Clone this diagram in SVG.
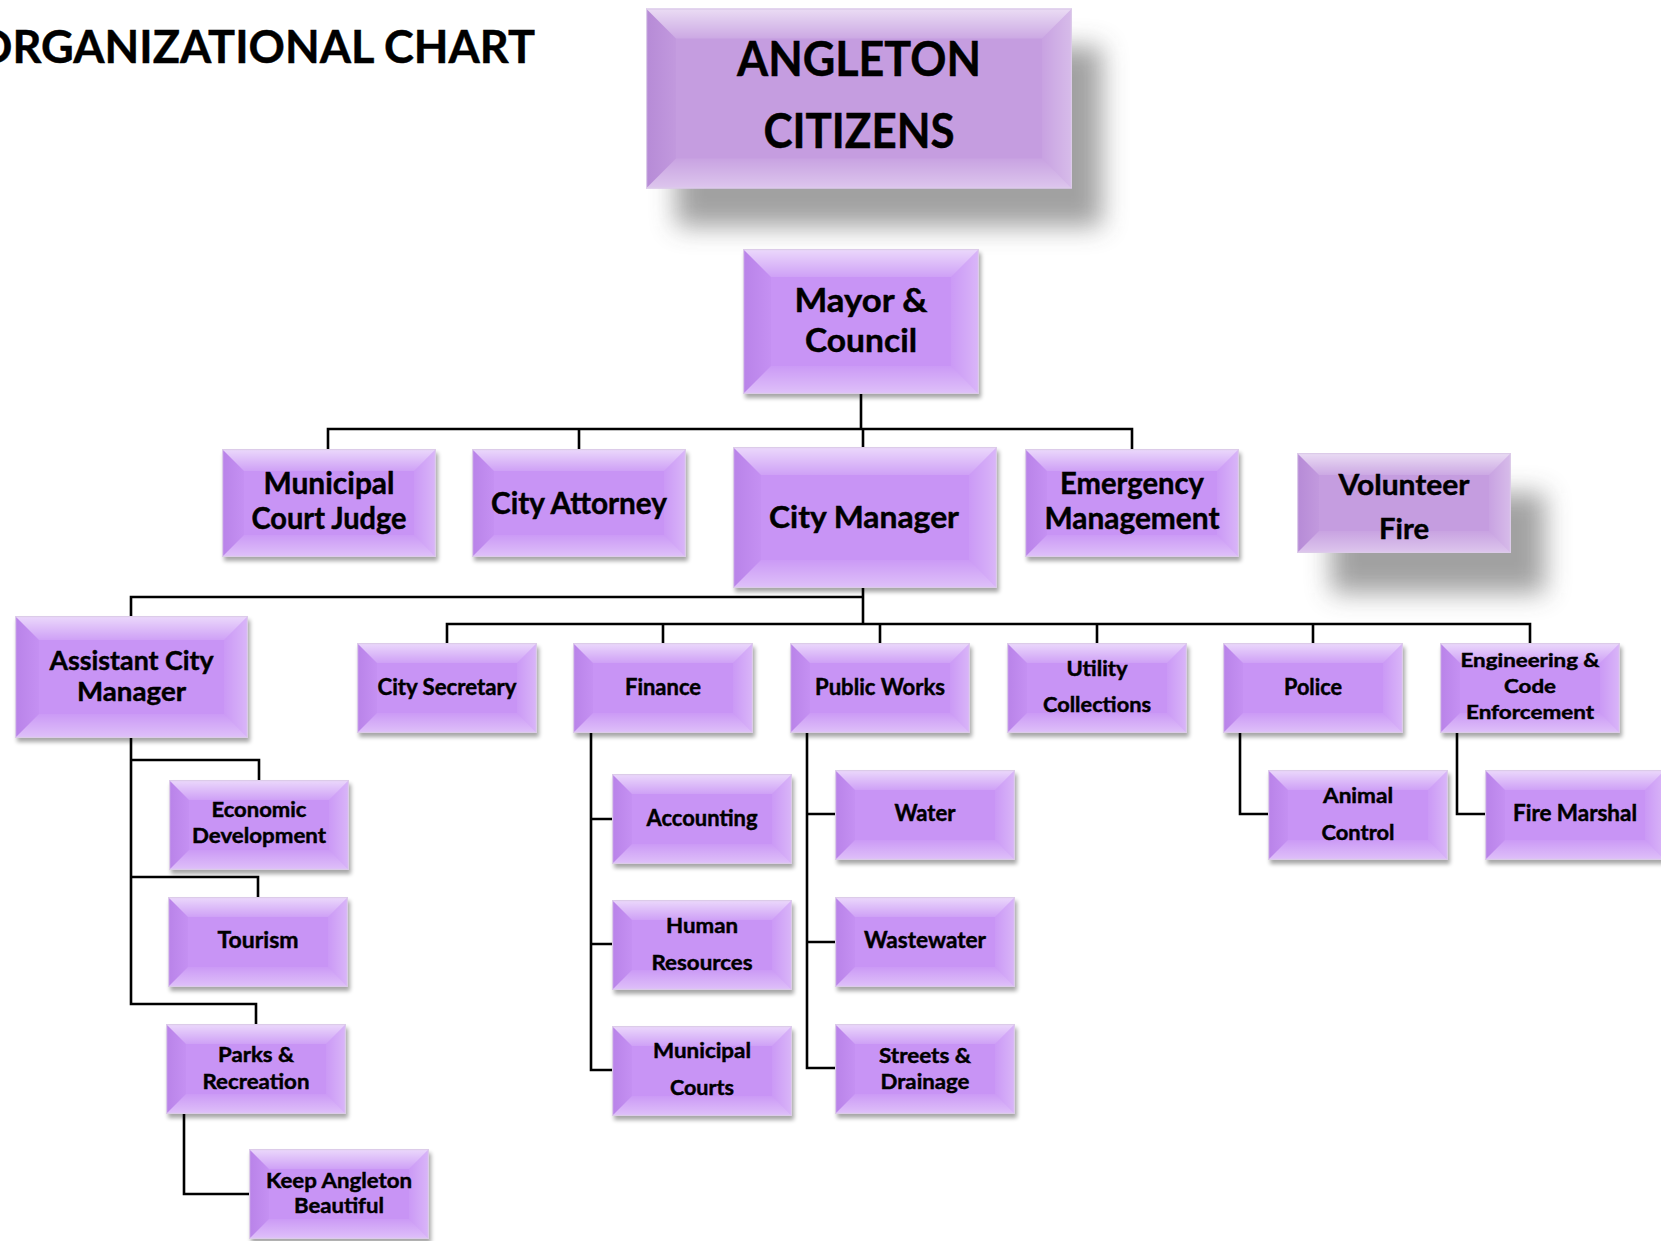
<svg xmlns="http://www.w3.org/2000/svg" xmlns:xlink="http://www.w3.org/1999/xlink" width="1661" height="1241" viewBox="0 0 1661 1241">
<style>
.t{font-family:Lato,"Liberation Sans",sans-serif;font-weight:700;fill:#000;text-anchor:middle;stroke:#000;stroke-width:0.45}
.conn{fill:none;stroke:#000;stroke-width:2.6;stroke-linejoin:miter}
</style>
<defs>
<filter id="fSm" x="-10%" y="-10%" width="130%" height="140%"><feGaussianBlur stdDeviation="2.2"/></filter>
<filter id="fBig" x="-40%" y="-50%" width="180%" height="200%"><feGaussianBlur stdDeviation="13"/></filter>
<linearGradient id="gT" x1="0" y1="0" x2="0" y2="1"><stop offset="0" stop-color="#fff" stop-opacity="0.65"/><stop offset="1" stop-color="#fff" stop-opacity="0.12"/></linearGradient>
<linearGradient id="gB" x1="0" y1="1" x2="0" y2="0"><stop offset="0" stop-color="#fff" stop-opacity="0.42"/><stop offset="1" stop-color="#fff" stop-opacity="0.06"/></linearGradient>
<linearGradient id="gL" x1="0" y1="0" x2="1" y2="0"><stop offset="0" stop-color="#5a189a" stop-opacity="0.14"/><stop offset="1" stop-color="#5a189a" stop-opacity="0.03"/></linearGradient>
<linearGradient id="gR" x1="1" y1="0" x2="0" y2="0"><stop offset="0" stop-color="#fff" stop-opacity="0.32"/><stop offset="1" stop-color="#fff" stop-opacity="0.05"/></linearGradient>

<g id="bv1">
<rect x="30" y="38" width="426" height="180" fill="#444" opacity="0.5" filter="url(#fBig)"/>
<rect width="426" height="180" fill="#C59DE0"/>
<polygon points="0,0 426,0 396,30 30,30" fill="url(#gT)"/>
<polygon points="0,180 426,180 396,150 30,150" fill="url(#gB)"/>
<polygon points="0,0 30,30 30,150 0,180" fill="url(#gL)"/>
<polygon points="426,0 396,30 396,150 426,180" fill="url(#gR)"/>
<rect x="0.6" y="0.6" width="424.8" height="178.8" fill="none" stroke="#DCCBE9" stroke-width="1.2"/>
</g>
<g id="bv2">
<rect x="2" y="4" width="236" height="145" fill="#000" opacity="0.35" filter="url(#fSm)"/>
<rect width="236" height="145" fill="#C894F5"/>
<polygon points="0,0 236,0 208,28 28,28" fill="url(#gT)"/>
<polygon points="0,145 236,145 208,117 28,117" fill="url(#gB)"/>
<polygon points="0,0 28,28 28,117 0,145" fill="url(#gL)"/>
<polygon points="236,0 208,28 208,117 236,145" fill="url(#gR)"/>
<rect x="0.6" y="0.6" width="234.8" height="143.8" fill="none" stroke="#DCCBE9" stroke-width="1.2"/>
</g>
<g id="bv3">
<rect x="2" y="4" width="214" height="108" fill="#000" opacity="0.35" filter="url(#fSm)"/>
<rect width="214" height="108" fill="#C894F5"/>
<polygon points="0,0 214,0 192,22 22,22" fill="url(#gT)"/>
<polygon points="0,108 214,108 192,86 22,86" fill="url(#gB)"/>
<polygon points="0,0 22,22 22,86 0,108" fill="url(#gL)"/>
<polygon points="214,0 192,22 192,86 214,108" fill="url(#gR)"/>
<rect x="0.6" y="0.6" width="212.8" height="106.8" fill="none" stroke="#DCCBE9" stroke-width="1.2"/>
</g>
<g id="bv4">
<rect x="2" y="4" width="264" height="141" fill="#000" opacity="0.35" filter="url(#fSm)"/>
<rect width="264" height="141" fill="#C894F5"/>
<polygon points="0,0 264,0 236,28 28,28" fill="url(#gT)"/>
<polygon points="0,141 264,141 236,113 28,113" fill="url(#gB)"/>
<polygon points="0,0 28,28 28,113 0,141" fill="url(#gL)"/>
<polygon points="264,0 236,28 236,113 264,141" fill="url(#gR)"/>
<rect x="0.6" y="0.6" width="262.8" height="139.8" fill="none" stroke="#DCCBE9" stroke-width="1.2"/>
</g>
<g id="bv5">
<rect x="34" y="40" width="214" height="100" fill="#444" opacity="0.5" filter="url(#fBig)"/>
<rect width="214" height="100" fill="#C59DE0"/>
<polygon points="0,0 214,0 192,22 22,22" fill="url(#gT)"/>
<polygon points="0,100 214,100 192,78 22,78" fill="url(#gB)"/>
<polygon points="0,0 22,22 22,78 0,100" fill="url(#gL)"/>
<polygon points="214,0 192,22 192,78 214,100" fill="url(#gR)"/>
<rect x="0.6" y="0.6" width="212.8" height="98.8" fill="none" stroke="#DCCBE9" stroke-width="1.2"/>
</g>
<g id="bv6">
<rect x="2" y="4" width="233" height="122" fill="#000" opacity="0.35" filter="url(#fSm)"/>
<rect width="233" height="122" fill="#C894F5"/>
<polygon points="0,0 233,0 209,24 24,24" fill="url(#gT)"/>
<polygon points="0,122 233,122 209,98 24,98" fill="url(#gB)"/>
<polygon points="0,0 24,24 24,98 0,122" fill="url(#gL)"/>
<polygon points="233,0 209,24 209,98 233,122" fill="url(#gR)"/>
<rect x="0.6" y="0.6" width="231.8" height="120.8" fill="none" stroke="#DCCBE9" stroke-width="1.2"/>
</g>
<g id="bv7">
<rect x="2" y="4" width="180" height="90" fill="#000" opacity="0.35" filter="url(#fSm)"/>
<rect width="180" height="90" fill="#C894F5"/>
<polygon points="0,0 180,0 160,20 20,20" fill="url(#gT)"/>
<polygon points="0,90 180,90 160,70 20,70" fill="url(#gB)"/>
<polygon points="0,0 20,20 20,70 0,90" fill="url(#gL)"/>
<polygon points="180,0 160,20 160,70 180,90" fill="url(#gR)"/>
<rect x="0.6" y="0.6" width="178.8" height="88.8" fill="none" stroke="#DCCBE9" stroke-width="1.2"/>
</g>
</defs>

<rect width="1661" height="1241" fill="#fff"/>

<text class="t" x="-24" y="63" font-size="46" style="text-anchor:start" textLength="559" lengthAdjust="spacingAndGlyphs">ORGANIZATIONAL CHART</text>

<g id="connectors">
<path class="conn" d="M861,394 V429 M328,449 V429 H1132 V449 M579,429 V449 M863,429 V447"/>
<path class="conn" d="M863,588 V624 M863,597 H131 V616 M447,643 V624 H1530 V643 M663,624 V643 M880,624 V643 M1097,624 V643 M1313,624 V643"/>
<path class="conn" d="M131,738 V1004 H256 V1024 M131,760 H259 V780 M131,877 H258 V897"/>
<path class="conn" d="M184,1114 V1194 H249"/>
<path class="conn" d="M591,733 V1070 H612 M591,819 H612 M591,944 H612"/>
<path class="conn" d="M807,733 V1068 H835 M807,814 H835 M807,942 H835"/>
<path class="conn" d="M1240,733 V814 H1268"/>
<path class="conn" d="M1457,733 V814 H1485"/>
</g>

<g id="n-citizens" transform="translate(646,8.5)">
<use xlink:href="#bv1"/>
<text class="t" x="213" y="67" font-size="47" textLength="244" lengthAdjust="spacingAndGlyphs">ANGLETON</text>
<text class="t" x="213" y="139" font-size="47" textLength="191" lengthAdjust="spacingAndGlyphs">CITIZENS</text>
</g>

<g id="n-mayor" transform="translate(743,249)">
<use xlink:href="#bv2"/>
<text class="t" x="118" y="63" font-size="33" textLength="133" lengthAdjust="spacingAndGlyphs">Mayor &amp;</text>
<text class="t" x="118" y="103" font-size="33" textLength="112" lengthAdjust="spacingAndGlyphs">Council</text>
</g>

<g id="n-judge" transform="translate(222,449)">
<use xlink:href="#bv3"/>
<text class="t" x="107" y="45" font-size="30" textLength="131" lengthAdjust="spacingAndGlyphs">Municipal</text>
<text class="t" x="107" y="80" font-size="30" textLength="155" lengthAdjust="spacingAndGlyphs">Court Judge</text>
</g>

<g id="n-attorney" transform="translate(472,449)">
<use xlink:href="#bv3"/>
<text class="t" x="107" y="65" font-size="30" textLength="176" lengthAdjust="spacingAndGlyphs">City Attorney</text>
</g>

<g id="n-citymanager" transform="translate(733,447)">
<use xlink:href="#bv4"/>
<text class="t" x="131" y="81" font-size="31" textLength="190" lengthAdjust="spacingAndGlyphs">City Manager</text>
</g>

<g id="n-emergency" transform="translate(1025,449)">
<use xlink:href="#bv3"/>
<text class="t" x="107" y="45" font-size="30" textLength="144" lengthAdjust="spacingAndGlyphs">Emergency</text>
<text class="t" x="107" y="80" font-size="30" textLength="175" lengthAdjust="spacingAndGlyphs">Management</text>
</g>

<g id="n-volunteerfire" transform="translate(1297,453)">
<use xlink:href="#bv5"/>
<text class="t" x="107" y="42" font-size="29" textLength="131" lengthAdjust="spacingAndGlyphs">Volunteer</text>
<text class="t" x="107" y="86" font-size="29" textLength="50" lengthAdjust="spacingAndGlyphs">Fire</text>
</g>

<g id="n-assistant" transform="translate(15,616)">
<use xlink:href="#bv6"/>
<text class="t" x="116.5" y="54" font-size="27" textLength="164" lengthAdjust="spacingAndGlyphs">Assistant City</text>
<text class="t" x="116.5" y="85" font-size="27" textLength="109" lengthAdjust="spacingAndGlyphs">Manager</text>
</g>

<g id="n-secretary" transform="translate(357,643)">
<use xlink:href="#bv7"/>
<text class="t" x="90" y="52" font-size="22" textLength="139" lengthAdjust="spacingAndGlyphs">City Secretary</text>
</g>

<g id="n-finance" transform="translate(573,643)">
<use xlink:href="#bv7"/>
<text class="t" x="90" y="52" font-size="22" textLength="76" lengthAdjust="spacingAndGlyphs">Finance</text>
</g>

<g id="n-publicworks" transform="translate(790,643)">
<use xlink:href="#bv7"/>
<text class="t" x="90" y="52" font-size="22" textLength="130" lengthAdjust="spacingAndGlyphs">Public Works</text>
</g>

<g id="n-utility" transform="translate(1007,643)">
<use xlink:href="#bv7"/>
<text class="t" x="90" y="33" font-size="21" textLength="61" lengthAdjust="spacingAndGlyphs">Utility</text>
<text class="t" x="90" y="69" font-size="21" textLength="108" lengthAdjust="spacingAndGlyphs">Collections</text>
</g>

<g id="n-police" transform="translate(1223,643)">
<use xlink:href="#bv7"/>
<text class="t" x="90" y="52" font-size="22" textLength="58" lengthAdjust="spacingAndGlyphs">Police</text>
</g>

<g id="n-engineering" transform="translate(1440,643)">
<use xlink:href="#bv7"/>
<text class="t" x="90" y="24" font-size="19" textLength="139" lengthAdjust="spacingAndGlyphs">Engineering &amp;</text>
<text class="t" x="90" y="50" font-size="19" textLength="52" lengthAdjust="spacingAndGlyphs">Code</text>
<text class="t" x="90" y="76" font-size="19" textLength="128" lengthAdjust="spacingAndGlyphs">Enforcement</text>
</g>

<g id="n-economic" transform="translate(169,780)">
<use xlink:href="#bv7"/>
<text class="t" x="90" y="37" font-size="21" textLength="95" lengthAdjust="spacingAndGlyphs">Economic</text>
<text class="t" x="90" y="63" font-size="21" textLength="134" lengthAdjust="spacingAndGlyphs">Development</text>
</g>

<g id="n-tourism" transform="translate(168,897)">
<use xlink:href="#bv7"/>
<text class="t" x="90" y="51" font-size="22" textLength="81" lengthAdjust="spacingAndGlyphs">Tourism</text>
</g>

<g id="n-parks" transform="translate(166,1024)">
<use xlink:href="#bv7"/>
<text class="t" x="90" y="38" font-size="21" textLength="76" lengthAdjust="spacingAndGlyphs">Parks &amp;</text>
<text class="t" x="90" y="65" font-size="21" textLength="107" lengthAdjust="spacingAndGlyphs">Recreation</text>
</g>

<g id="n-keepangleton" transform="translate(249,1149)">
<use xlink:href="#bv7"/>
<text class="t" x="90" y="39" font-size="21" textLength="146" lengthAdjust="spacingAndGlyphs">Keep Angleton</text>
<text class="t" x="90" y="64" font-size="21" textLength="90" lengthAdjust="spacingAndGlyphs">Beautiful</text>
</g>

<g id="n-accounting" transform="translate(612,774)">
<use xlink:href="#bv7"/>
<text class="t" x="90" y="52" font-size="22" textLength="111" lengthAdjust="spacingAndGlyphs">Accounting</text>
</g>

<g id="n-hr" transform="translate(612,900)">
<use xlink:href="#bv7"/>
<text class="t" x="90" y="33" font-size="21" textLength="72" lengthAdjust="spacingAndGlyphs">Human</text>
<text class="t" x="90" y="70" font-size="21" textLength="101" lengthAdjust="spacingAndGlyphs">Resources</text>
</g>

<g id="n-municipalcourts" transform="translate(612,1026)">
<use xlink:href="#bv7"/>
<text class="t" x="90" y="32" font-size="21" textLength="98" lengthAdjust="spacingAndGlyphs">Municipal</text>
<text class="t" x="90" y="69" font-size="21" textLength="64" lengthAdjust="spacingAndGlyphs">Courts</text>
</g>

<g id="n-water" transform="translate(835,770)">
<use xlink:href="#bv7"/>
<text class="t" x="90" y="51" font-size="22" textLength="61" lengthAdjust="spacingAndGlyphs">Water</text>
</g>

<g id="n-wastewater" transform="translate(835,897)">
<use xlink:href="#bv7"/>
<text class="t" x="90" y="51" font-size="22" textLength="122" lengthAdjust="spacingAndGlyphs">Wastewater</text>
</g>

<g id="n-streets" transform="translate(835,1024)">
<use xlink:href="#bv7"/>
<text class="t" x="90" y="39" font-size="21" textLength="92" lengthAdjust="spacingAndGlyphs">Streets &amp;</text>
<text class="t" x="90" y="65" font-size="21" textLength="89" lengthAdjust="spacingAndGlyphs">Drainage</text>
</g>

<g id="n-animal" transform="translate(1268,770)">
<use xlink:href="#bv7"/>
<text class="t" x="90" y="33" font-size="21" textLength="70" lengthAdjust="spacingAndGlyphs">Animal</text>
<text class="t" x="90" y="70" font-size="21" textLength="73" lengthAdjust="spacingAndGlyphs">Control</text>
</g>

<g id="n-firemarshal" transform="translate(1485,770)">
<use xlink:href="#bv7"/>
<text class="t" x="90" y="51" font-size="22" textLength="124" lengthAdjust="spacingAndGlyphs">Fire Marshal</text>
</g>
</svg>
